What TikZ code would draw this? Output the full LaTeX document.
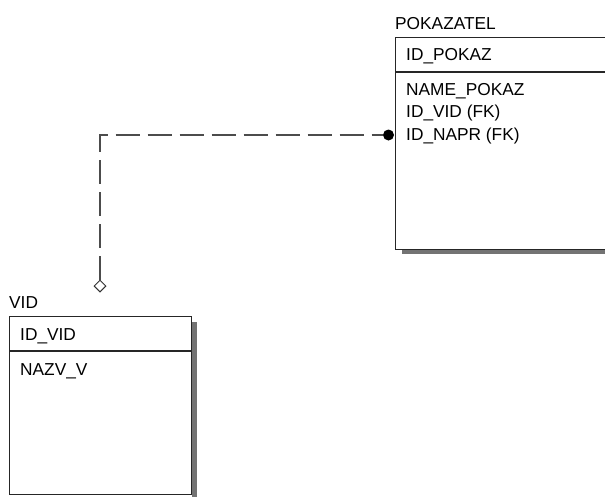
\documentclass[tikz,border=0pt]{standalone}
\usepackage{fontspec}
\setmainfont{Liberation Sans}
\usetikzlibrary{shapes.geometric}
\begin{document}
\begin{tikzpicture}[x=1pt,y=-1pt,
  entitybox/.style={draw=black!85, line width=1.4pt, inner sep=0, anchor=north west},
  divider/.style={draw=black!85, line width=1.3pt},
  boxshadow/.style={fill=black!55},
  lbl/.style={anchor=base west, inner sep=0, font=\fontsize{17.3}{20}\selectfont},
  relline/.style={draw=black!70, line width=1.8pt, dash pattern=on 24pt off 8pt},
  parentend/.style={diamond, draw=black!80, fill=white, line width=1pt, minimum width=12pt, minimum height=12pt, inner sep=0},
  childend/.style={circle, fill=black, minimum size=11pt, inner sep=0}]
\useasboundingbox (0,0) rectangle (605,496);

% POKAZATEL entity
\fill[boxshadow] (402,249.5) rectangle (625,254);
\node[entitybox, minimum width=230pt, minimum height=212pt] (pokaz) at (395,37) {};
\draw[divider] (395,72) -- (625,72);
\node[lbl] (pokazT) at (395,29) {POKAZATEL};
\node[lbl] (pk1) at (406,60) {ID\_POKAZ};
\node[lbl] (pa1) at (406,95) {NAME\_POKAZ};
\node[lbl] (pa2) at (406,117.5) {ID\_VID (FK)};
\node[lbl] (pa3) at (406,140) {ID\_NAPR (FK)};

% VID entity
\fill[boxshadow] (191.5,322) rectangle (196.5,500);
\node[entitybox, minimum width=182pt, minimum height=178pt] (vid) at (9,316) {};
\draw[divider] (9,351) -- (191,351);
\node[lbl] (vidT) at (9,308) {VID};
\node[lbl] (vk1) at (20,340) {ID\_VID};
\node[lbl] (va1) at (20,375) {NAZV\_V};

% relationship VID -> POKAZATEL
\node[parentend] (pend) at (100,286) {};
\node[childend] (cend) at (388.5,135) {};
\draw[relline] (pend.north) |- (cend.west);
\end{tikzpicture}
\end{document}
